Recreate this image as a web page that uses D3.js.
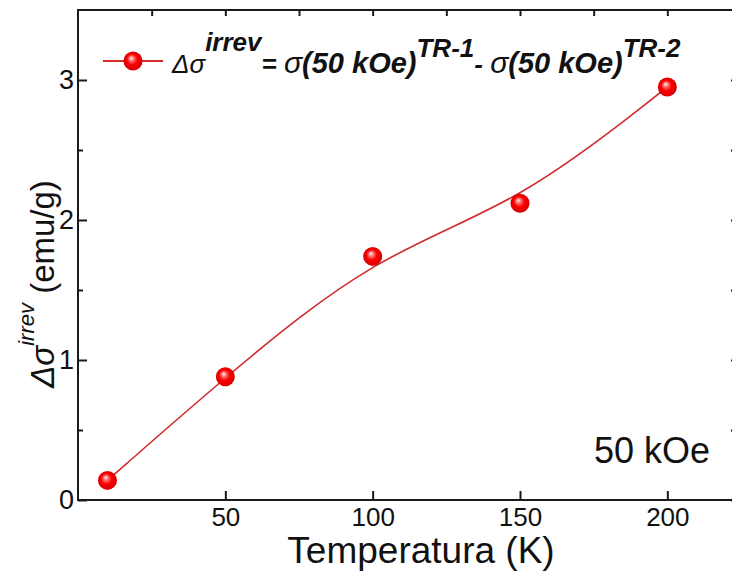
<!DOCTYPE html>
<html>
<head>
<meta charset="utf-8">
<script src="https://cdn.jsdelivr.net/npm/d3@7"></script>
<style>
html,body{margin:0;padding:0;background:#fff;}
svg{display:block;}
</style>
</head>
<body>
<script>
// ---- data ----
const temperatures = [10, 50, 100, 150, 200];
const deltaSigma = [0.14, 0.88, 1.74, 2.12, 2.95];
const xTickValues = [50, 100, 150, 200];
const yTickValues = [0, 1, 2, 3];
const xDomain = [0, 225];
const yDomain = [0, 3.5];
const annotation = "50 kOe";
const xLabel = "Temperatura (K)";

(function () {
const W = 732, H = 571;
const svg = d3.select("body").append("svg").attr("width", W).attr("height", H);
const defs = svg.append("defs");
const grad = defs.append("radialGradient").attr("id", "ball")
  .attr("cx", "50%").attr("cy", "50%").attr("r", "55%")
  .attr("fx", "40%").attr("fy", "34%");
grad.append("stop").attr("offset", "0%").attr("stop-color", "#ffffff");
grad.append("stop").attr("offset", "18%").attr("stop-color", "#ff8a8a");
grad.append("stop").attr("offset", "50%").attr("stop-color", "#ff0000");
grad.append("stop").attr("offset", "100%").attr("stop-color", "#cc0000");

const x = d3.scaleLinear().domain(xDomain).range([78, 741]);
const y = d3.scaleLinear().domain(yDomain).range([500, 10]);

const axisColor = "#1a1a1a";
const font = "Arial, 'Liberation Sans', sans-serif";

// frame
svg.append("rect").attr("x", x(xDomain[0])).attr("y", y(yDomain[1]))
  .attr("width", x(xDomain[1]) - x(xDomain[0])).attr("height", y(yDomain[0]) - y(yDomain[1]))
  .attr("fill", "none").attr("stroke", axisColor).attr("stroke-width", 2);

// bottom axis (major ticks inward)
const gBottom = svg.append("g").attr("transform", `translate(0,${y(0)})`)
  .call(d3.axisBottom(x).tickValues(xTickValues).tickSizeInner(-9).tickSizeOuter(0).tickPadding(8));
gBottom.select(".domain").remove();
gBottom.selectAll("line").attr("stroke", axisColor).attr("stroke-width", 2);
gBottom.selectAll("text").attr("font-family", font).attr("font-size", 26).attr("fill", "#111");

// top axis ticks every 25, inward
const gTop = svg.append("g").attr("transform", `translate(0,${y(yDomain[1])})`)
  .call(d3.axisTop(x).tickValues(d3.range(25, 225, 25)).tickSizeInner(-6).tickSizeOuter(0).tickFormat(""));
gTop.select(".domain").remove();
gTop.selectAll("line").attr("stroke", axisColor).attr("stroke-width", 2);

// left axis
const gLeft = svg.append("g").attr("transform", `translate(${x(0)},0)`)
  .call(d3.axisLeft(y).tickValues(yTickValues).tickFormat(d3.format("d"))
    .tickSizeInner(-9).tickSizeOuter(0).tickPadding(4));
gLeft.select(".domain").remove();
gLeft.selectAll("line").attr("stroke", axisColor).attr("stroke-width", 2);
gLeft.selectAll("text").attr("font-family", font).attr("font-size", 27).attr("fill", "#111");
const gLeftMinor = svg.append("g").attr("transform", `translate(${x(0)},0)`)
  .call(d3.axisLeft(y).tickValues([0.5, 1.5, 2.5]).tickSizeInner(-5).tickSizeOuter(0).tickFormat(""));
gLeftMinor.select(".domain").remove();
gLeftMinor.selectAll("line").attr("stroke", axisColor).attr("stroke-width", 2);

// right axis ticks
const gRight = svg.append("g").attr("transform", `translate(${x(xDomain[1])},0)`)
  .call(d3.axisRight(y).tickValues(yTickValues.concat([0.5,1.5,2.5])).tickSizeInner(-10).tickSizeOuter(0).tickFormat(""));
gRight.select(".domain").remove();
gRight.selectAll("line").attr("stroke", axisColor).attr("stroke-width", 2);

// curve
const pts = temperatures.map((t, i) => [t, deltaSigma[i]]);
svg.append("path").datum(pts)
  .attr("d", d3.line().x(d => x(d[0])).y(d => y(d[1])).curve(d3.curveBasis))
  .attr("fill", "none").attr("stroke", "#d42a2a").attr("stroke-width", 1.6);

// markers
svg.selectAll("circle.pt").data(pts).join("circle").attr("class", "pt")
  .attr("cx", d => x(d[0])).attr("cy", d => y(d[1])).attr("r", 9.5)
  .attr("fill", "url(#ball)");

// legend
svg.append("line").attr("x1", 103).attr("x2", 163).attr("y1", 61).attr("y2", 61)
  .attr("stroke", "#d42a2a").attr("stroke-width", 1.8);
svg.append("circle").attr("cx", 133).attr("cy", 61).attr("r", 9.5).attr("fill", "url(#ball)");

const lg = svg.append("text").attr("x", 172).attr("y", 73)
  .attr("font-family", font).attr("fill", "#111").attr("font-style", "italic");
lg.append("tspan").attr("font-size", 26).text("Δσ");
lg.append("tspan").attr("font-size", 26).attr("font-weight", "bold").attr("dy", -22).text("irrev");
lg.append("tspan").attr("font-size", 26).attr("font-weight", "bold").attr("dy", 22).text("= ");
lg.append("tspan").attr("font-size", 30).text("σ");
lg.append("tspan").attr("font-size", 29).attr("font-weight", "bold").text("(50 kOe)");
lg.append("tspan").attr("font-size", 26).attr("font-weight", "bold").attr("dy", -16).text("TR-1");
lg.append("tspan").attr("font-size", 26).attr("font-weight", "bold").attr("dy", 16).text("- ");
lg.append("tspan").attr("font-size", 30).text("σ");
lg.append("tspan").attr("font-size", 29).attr("font-weight", "bold").text("(50 kOe)");
lg.append("tspan").attr("font-size", 26).attr("font-weight", "bold").attr("dy", -16).text("TR-2");

// annotation
svg.append("text").attr("x", 710).attr("y", 463).attr("text-anchor", "end")
  .attr("font-family", font).attr("font-size", 36).attr("fill", "#111").text(annotation);

// x label
svg.append("text").attr("x", 421).attr("y", 563).attr("text-anchor", "middle")
  .attr("font-family", font).attr("font-size", 37).attr("fill", "#111").text(xLabel);

// y label
const yl = svg.append("text").attr("transform", "translate(54,284) rotate(-90)")
  .attr("text-anchor", "middle").attr("font-family", font).attr("font-size", 33).attr("fill", "#111");
yl.append("tspan").attr("font-style", "italic").text("Δσ");
yl.append("tspan").attr("font-style", "italic").attr("font-size", 22).attr("dy", -20).text("irrev");
yl.append("tspan").attr("dy", 20).text(" (emu/g)");
})();
</script>
</body>
</html>
